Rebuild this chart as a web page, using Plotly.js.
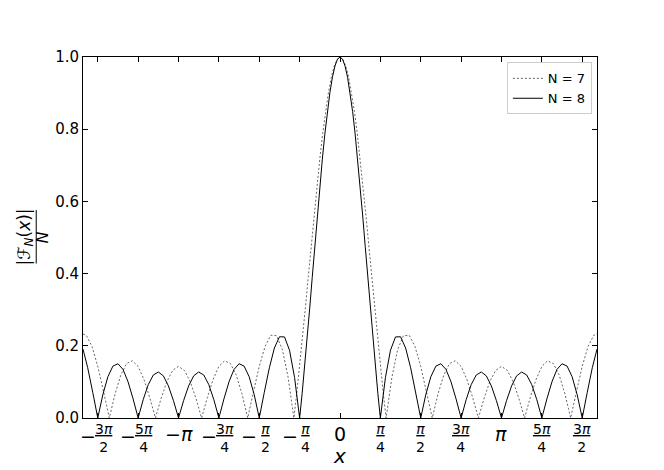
<!DOCTYPE html>
<html>
<head>
<meta charset="utf-8">
<script src="https://cdn.plot.ly/plotly-3.0.1.min.js"></script>
<style>
  html, body { margin: 0; padding: 0; background: #fff; }
  #chart { width: 664px; height: 470px; }
</style>
</head>
<body>
<div id="chart"></div>
<script>
// |F_N(x)| / N, N = 8 (solid) and N = 7 (dotted)
const xN8 = [-5.0, -4.9087, -4.8106, -4.7124, -4.6142, -4.5160, -4.4179, -4.3197, -4.2215, -4.1233, -4.0252,
  -3.9270, -3.8288, -3.7306, -3.6325, -3.5343, -3.4361, -3.3379, -3.2398, -3.1416, -3.0434, -2.9452,
  -2.8471, -2.7489, -2.6507, -2.5525, -2.4544, -2.3562, -2.2580, -2.1598, -2.0617, -1.9635, -1.8653,
  -1.7671, -1.6690, -1.5708, -1.4726, -1.3744, -1.2763, -1.1781, -1.0799, -0.9817, -0.8836, -0.7854,
  -0.7363, -0.6872, -0.6381, -0.5890, -0.5400, -0.4909, -0.4418, -0.3927, -0.3436, -0.2945, -0.2454,
  -0.1963, -0.1473, -0.0982, -0.0491,
  0, 0.0491, 0.0982, 0.1473, 0.1963, 0.2454, 0.2945, 0.3436, 0.3927, 0.4418, 0.4909, 0.5400, 0.5890,
  0.6381, 0.6872, 0.7363, 0.7854, 0.8836, 0.9817, 1.0799, 1.1781, 1.2763, 1.3744, 1.4726, 1.5708,
  1.6690, 1.7671, 1.8653, 1.9635, 2.0617, 2.1598, 2.2580, 2.3562, 2.4544, 2.5525, 2.6507, 2.7489,
  2.8471, 2.9452, 3.0434, 3.1416, 3.2398, 3.3379, 3.4361, 3.5343, 3.6325, 3.7306, 3.8288, 3.9270,
  4.0252, 4.1233, 4.2215, 4.3197, 4.4179, 4.5160, 4.6142, 4.7124, 4.8106, 4.9087, 5.0];
const yN8 = [0.1907, 0.1393, 0.0712, 0, 0.0646, 0.1143, 0.1438, 0.1503, 0.1346, 0.1002, 0.0529,
  0, 0.0508, 0.0924, 0.1191, 0.1274, 0.1167, 0.0888, 0.0479, 0, 0.0479, 0.0888,
  0.1167, 0.1274, 0.1191, 0.0924, 0.0508, 0, 0.0529, 0.1002, 0.1346, 0.1503, 0.1438,
  0.1143, 0.0646, 0, 0.0712, 0.1393, 0.1939, 0.2250, 0.2246, 0.1875, 0.1119, 0,
  0.0678, 0.1420, 0.2214, 0.3045, 0.3897, 0.4753, 0.5596, 0.6407, 0.7171, 0.7871, 0.8491,
  0.9018, 0.9440, 0.9749, 0.9937,
  1, 0.9937, 0.9749, 0.9440, 0.9018, 0.8491, 0.7871, 0.7171, 0.6407, 0.5596, 0.4753, 0.3897, 0.3045,
  0.2214, 0.1420, 0.0678, 0, 0.1119, 0.1875, 0.2246, 0.2250, 0.1939, 0.1393, 0.0712, 0,
  0.0646, 0.1143, 0.1438, 0.1503, 0.1346, 0.1002, 0.0529, 0, 0.0508, 0.0924, 0.1191, 0.1274,
  0.1167, 0.0888, 0.0479, 0, 0.0479, 0.0888, 0.1167, 0.1274, 0.1191, 0.0924, 0.0508, 0,
  0.0529, 0.1002, 0.1346, 0.1503, 0.1438, 0.1143, 0.0646, 0, 0.0712, 0.1393, 0.1907];

const xN7 = [-5.0, -4.9368, -4.8246, -4.7124, -4.6002, -4.4880, -4.3758, -4.2636, -4.1514, -4.0392,
  -3.9270, -3.8148, -3.7026, -3.5904, -3.4782, -3.3660, -3.2538, -3.1416, -3.0294, -2.9172, -2.8050,
  -2.6928, -2.5806, -2.4684, -2.3562, -2.2440, -2.1318, -2.0196, -1.9074, -1.7952, -1.6830, -1.5708,
  -1.4586, -1.3464, -1.2342, -1.1220, -1.0098, -0.8976, -0.8415, -0.7854, -0.7293, -0.6732, -0.6171,
  -0.5610, -0.5049, -0.4488, -0.3927, -0.3366, -0.2805, -0.2244, -0.1683, -0.1122, -0.0561,
  0, 0.0561, 0.1122, 0.1683, 0.2244, 0.2805, 0.3366, 0.3927, 0.4488, 0.5049, 0.5610, 0.6171, 0.6732,
  0.7293, 0.7854, 0.8415, 0.8976, 1.0098, 1.1220, 1.2342, 1.3464, 1.4586, 1.5708, 1.6830, 1.7952,
  1.9074, 2.0196, 2.1318, 2.2440, 2.3562, 2.4684, 2.5806, 2.6928, 2.8050, 2.9172, 3.0294, 3.1416,
  3.2538, 3.3660, 3.4782, 3.5904, 3.7026, 3.8148, 3.9270, 4.0392, 4.1514, 4.2636, 4.3758, 4.4880,
  4.6002, 4.7124, 4.8246, 4.9368, 5.0];
const yN7 = [0.2328, 0.2291, 0.1981, 0.1429, 0.0733, 0, 0.0670, 0.1193, 0.1508, 0.1586,
  0.1429, 0.1070, 0.0569, 0, 0.0555, 0.1017, 0.1322, 0.1429, 0.1322, 0.1017, 0.0555,
  0, 0.0569, 0.1070, 0.1429, 0.1586, 0.1508, 0.1193, 0.0670, 0, 0.0733, 0.1429,
  0.1981, 0.2291, 0.2281, 0.1899, 0.1130, 0, 0.0682, 0.1429, 0.2226, 0.3058, 0.3911,
  0.4768, 0.5610, 0.6420, 0.7182, 0.7879, 0.8497, 0.9022, 0.9443, 0.9750, 0.9937,
  1, 0.9937, 0.9750, 0.9443, 0.9022, 0.8497, 0.7879, 0.7182, 0.6420, 0.5610, 0.4768, 0.3911, 0.3058,
  0.2226, 0.1429, 0.0682, 0, 0.1130, 0.1899, 0.2281, 0.2291, 0.1981, 0.1429, 0.0733, 0,
  0.0670, 0.1193, 0.1508, 0.1586, 0.1429, 0.1070, 0.0569, 0, 0.0555, 0.1017, 0.1322, 0.1429,
  0.1322, 0.1017, 0.0555, 0, 0.0569, 0.1070, 0.1429, 0.1586, 0.1508, 0.1193, 0.0670, 0,
  0.0733, 0.1429, 0.1981, 0.2291, 0.2328];

// x ticks at multiples of pi/4, labels as stacked fractions
const xTickVals = [-4.7124, -3.9270, -3.1416, -2.3562, -1.5708, -0.7854, 0,
  0.7854, 1.5708, 2.3562, 3.1416, 3.9270, 4.7124];
const xTickNum = ['3π', '5π', 'π', '3π', 'π', 'π', '0', 'π', 'π', '3π', 'π', '5π', '3π'];
const xTickDen = ['2', '4', '', '4', '2', '4', '', '4', '2', '4', '', '4', '2'];

const yTickVals = [0, 0.2, 0.4, 0.6, 0.8, 1.0];
const yTickText = ['0.0', '0.2', '0.4', '0.6', '0.8', '1.0'];

const FONT = 'DejaVu Sans, sans-serif';

function piItalic(s) {
  return s.replace('π', '<i>π</i>');
}

const annotations = [];
xTickVals.forEach((v, i) => {
  const neg = v < 0;
  const num = xTickNum[i];
  const den = xTickDen[i];
  if (den === '') {
    // whole labels: -pi, 0, pi
    annotations.push({
      x: v, y: 0, xref: 'x', yref: 'paper',
      text: (neg ? '−' : '') + piItalic(num),
      showarrow: false, yanchor: 'top', yshift: -3,
      font: { family: FONT, size: 19, color: '#000' }
    });
  } else {
    annotations.push({
      x: v, y: 0, xref: 'x', yref: 'paper',
      text: '<u>' + piItalic(num) + '</u><br>' + den,
      showarrow: false, yanchor: 'top', yshift: -1, xshift: neg ? 6 : 0,
      font: { family: FONT, size: 14, color: '#000' }
    });
    if (neg) {
      annotations.push({
        x: v, y: 0, xref: 'x', yref: 'paper',
        text: '−',
        showarrow: false, yanchor: 'top', yshift: -5, xshift: -10,
        font: { family: FONT, size: 19, color: '#000' }
      });
    }
  }
});

// y axis label as a stacked fraction: numerator, bar, denominator
annotations.push({
  x: 0, y: 0.5, xref: 'paper', yref: 'paper',
  text: '|<i>ℱ</i><sub><i>N</i></sub>(<i>x</i>)|',
  textangle: -90, showarrow: false, xanchor: 'center', yanchor: 'middle', xshift: -58,
  font: { family: FONT, size: 17, color: '#000' }
});
annotations.push({
  x: 0, y: 0.5, xref: 'paper', yref: 'paper',
  text: '<i>N</i>',
  textangle: -90, showarrow: false, xanchor: 'center', yanchor: 'middle', xshift: -41,
  font: { family: FONT, size: 16, color: '#000' }
});

const shapes = [{
  type: 'line', xref: 'paper', yref: 'paper',
  x0: -0.091, x1: -0.091, y0: 0.428, y1: 0.576,
  line: { color: '#000', width: 1 }
}];

const traces = [
  {
    x: xN7, y: yN7, name: 'N = 7', mode: 'lines', type: 'scatter',
    line: { color: '#666', width: 1, dash: '2px,2px' }
  },
  {
    x: xN8, y: yN8, name: 'N = 8', mode: 'lines', type: 'scatter',
    line: { color: '#000', width: 1 }
  }
];

const layout = {
  width: 664, height: 470,
  margin: { l: 83, r: 67, t: 57, b: 52 },
  paper_bgcolor: '#fff', plot_bgcolor: '#fff',
  font: { family: FONT, size: 15, color: '#000' },
  showlegend: true,
  legend: {
    x: 0.99, y: 0.985, xanchor: 'right', yanchor: 'top',
    bgcolor: '#fff', bordercolor: '#ccc', borderwidth: 1,
    font: { family: FONT, size: 13, color: '#000' },
    itemwidth: 30
  },
  xaxis: {
    range: [-5, 5], tickvals: xTickVals, showticklabels: false,
    ticks: 'inside', ticklen: 5, tickcolor: '#000',
    showline: true, linecolor: '#000', linewidth: 1, mirror: 'allticks',
    showgrid: false, zeroline: false,
    title: { text: '<i>x</i>', font: { family: FONT, size: 20 }, standoff: 30 }
  },
  yaxis: {
    range: [0, 1], tickvals: yTickVals, ticktext: yTickText,
    ticks: 'inside', ticklen: 5, tickcolor: '#000',
    showline: true, linecolor: '#000', linewidth: 1, mirror: 'allticks',
    showgrid: false, zeroline: false,
    tickfont: { family: FONT, size: 15 }
  },
  shapes: shapes,
  annotations: annotations
};

Plotly.newPlot('chart', traces, layout, { displayModeBar: false, staticPlot: true });
</script>
</body>
</html>
